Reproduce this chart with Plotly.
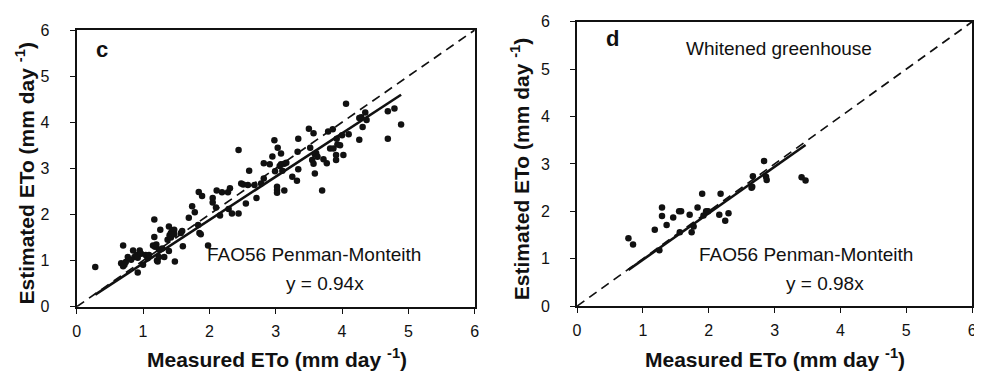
import plotly.graph_objects as go

# ---------------- data ----------------
c_measured = [0.28, 0.67, 0.70, 0.72, 0.70, 0.74, 0.77, 0.82, 0.85, 0.87, 0.90, 0.92, 0.92, 0.95, 0.97,
              1.00, 1.04, 1.07, 1.09, 1.15, 1.17, 1.17, 1.18, 1.20, 1.21, 1.22, 1.24, 1.24, 1.26, 1.29,
              1.32, 1.37, 1.39, 1.39, 1.40, 1.42, 1.42, 1.44, 1.47, 1.47, 1.48, 1.57, 1.59, 1.60, 1.69,
              1.74, 1.78, 1.83, 1.84, 1.85, 1.87, 1.89, 1.98, 2.05, 2.05, 2.10, 2.11, 2.16, 2.19, 2.28,
              2.29, 2.31, 2.34, 2.44, 2.44, 2.48, 2.51, 2.55, 2.58, 2.60, 2.68, 2.71, 2.78, 2.82, 2.82,
              2.91, 2.95, 2.98, 2.99, 3.02, 3.02, 3.02, 3.03, 3.06, 3.08, 3.08, 3.10, 3.13, 3.13, 3.16,
              3.25, 3.32, 3.33, 3.34, 3.34, 3.50, 3.52, 3.55, 3.57, 3.57, 3.59, 3.59, 3.61, 3.63, 3.70,
              3.72, 3.77, 3.79, 3.82, 3.86, 3.87, 3.91, 3.91, 3.92, 3.93, 3.97, 4.00, 4.02, 4.06, 4.10,
              4.26, 4.29, 4.26, 4.31, 4.35, 4.37, 4.69, 4.69, 4.79, 4.89]
c_estimated = [0.86, 0.94, 0.88, 0.91, 1.33, 0.97, 1.08, 1.02, 1.22, 1.08, 1.12, 1.06, 0.74, 1.22, 1.15,
               0.91, 1.12, 1.05, 1.12, 1.33, 1.89, 1.51, 1.30, 1.35, 1.00, 0.98, 1.08, 1.24, 1.67, 1.26,
               1.08, 1.45, 1.74, 1.21, 1.55, 1.60, 1.50, 1.65, 1.67, 1.57, 0.98, 1.60, 1.64, 1.31, 1.93,
               2.18, 2.05, 1.77, 2.49, 1.60, 1.57, 2.40, 1.33, 2.36, 2.26, 2.15, 2.52, 1.98, 2.48, 2.48,
               2.12, 2.57, 2.02, 2.02, 3.40, 2.67, 2.65, 2.24, 2.64, 2.95, 2.64, 2.36, 2.67, 3.11, 2.78,
               3.09, 3.26, 3.61, 2.94, 2.60, 2.53, 2.47, 3.45, 3.05, 3.32, 3.09, 2.95, 3.10, 2.52, 3.12,
               2.82, 2.73, 3.36, 3.64, 2.98, 3.86, 3.45, 3.18, 3.76, 3.10, 3.30, 2.89, 3.33, 3.25, 2.52,
               3.20, 3.11, 3.80, 3.43, 3.85, 3.43, 3.29, 3.18, 3.64, 3.52, 3.50, 3.72, 3.29, 4.40, 3.74,
               4.09, 4.11, 3.62, 3.90, 4.21, 4.05, 4.24, 3.64, 4.30, 3.95]

d_measured = [0.78, 0.85, 1.18, 1.25, 1.29, 1.29, 1.36, 1.46, 1.55, 1.58, 1.56, 1.71, 1.74, 1.77,
              1.83, 1.90, 1.92, 1.96, 1.99, 2.16, 2.18, 2.25, 2.30, 2.65, 2.66, 2.67, 2.84, 2.87,
              2.88, 3.41, 3.47]
d_estimated = [1.43, 1.30, 1.61, 1.18, 2.08, 1.90, 1.71, 1.87, 2.00, 2.00, 1.56, 1.93, 1.56, 1.68,
               2.08, 2.37, 1.91, 2.00, 2.00, 1.93, 2.37, 1.80, 1.96, 2.50, 2.52, 2.74, 3.06, 2.73,
               2.66, 2.72, 2.65]

c_slope = 0.94
d_slope = 0.98
axis_range = [0, 6]
tick_vals = [0, 1, 2, 3, 4, 5, 6]
x_title = "Measured ETo (mm day <sup>-1</sup>)"
y_title = "Estimated ETo (mm day <sup>-1</sup>)"
method_label = "FAO56 Penman-Monteith"
c_eq = "y = 0.94x"
d_eq = "y = 0.98x"
d_condition = "Whitened greenhouse"

# ---------------- figure ----------------
INK = "#111111"
FONT = "Liberation Sans, Arial, sans-serif"
W, H = 982, 381
OFF = 8  # the page body adds an 8px margin; positions below are given in page pixels


def px_x(p):
    return (p - OFF) / W


def px_y(p):
    return 1 - (p - OFF) / H


fig = go.Figure()


def add_panel(xs, ys, slope, xa, ya):
    # 1:1 line
    fig.add_trace(go.Scatter(x=axis_range, y=axis_range, mode="lines",
                             line=dict(color=INK, width=1.7, dash="9px,6px"),
                             xaxis=xa, yaxis=ya, showlegend=False, hoverinfo="skip"))
    # regression line through origin
    x0, x1 = min(xs), max(xs)
    fig.add_trace(go.Scatter(x=[x0, x1], y=[slope * x0, slope * x1], mode="lines",
                             line=dict(color=INK, width=2.6),
                             xaxis=xa, yaxis=ya, showlegend=False, hoverinfo="skip"))
    fig.add_trace(go.Scatter(x=xs, y=ys, mode="markers",
                             marker=dict(color=INK, size=6.5),
                             xaxis=xa, yaxis=ya, showlegend=False))


add_panel(c_measured, c_estimated, c_slope, "x", "y")
add_panel(d_measured, d_estimated, d_slope, "x2", "y2")

axis_common = dict(range=axis_range, tickvals=tick_vals, showgrid=False, zeroline=False,
                   showline=True, linecolor=INK, linewidth=2, mirror=True,
                   ticks="outside", ticklen=5, tickwidth=1.2, tickcolor=INK,
                   tickfont=dict(family=FONT, size=16, color=INK))

fig.update_layout(
    width=W, height=H,
    margin=dict(l=0, r=0, t=0, b=0),
    paper_bgcolor="white", plot_bgcolor="white",
    xaxis=dict(domain=[px_x(73.3), px_x(475)], anchor="y", ticklabelstandoff=4, **axis_common),
    yaxis=dict(domain=[px_y(312.3), px_y(22.7)], anchor="x", ticklabelstandoff=17, **axis_common),
    xaxis2=dict(domain=[px_x(578.3), px_x(977)], anchor="y2", ticklabelstandoff=4, **axis_common),
    yaxis2=dict(domain=[px_y(311.7), px_y(14)], anchor="x2", ticklabelstandoff=17, **axis_common),
)

ann_font = dict(family=FONT, size=19, color=INK)
bold_font = dict(family=FONT, size=22, color=INK)
title_font = dict(family=FONT, size=21, color=INK)

annotations = [
    dict(x=0.38, y=5.58, xref="x", yref="y", text="<b>c</b>", font=bold_font, showarrow=False),
    dict(x=3.58, y=1.125, xref="x", yref="y", text=method_label, font=ann_font, showarrow=False),
    dict(x=3.75, y=0.50, xref="x", yref="y", text=c_eq, font=ann_font, showarrow=False),
    dict(x=0.54, y=5.64, xref="x2", yref="y2", text="<b>d</b>", font=bold_font, showarrow=False),
    dict(x=3.06, y=5.44, xref="x2", yref="y2", text=d_condition, font=ann_font, showarrow=False),
    dict(x=3.48, y=1.08, xref="x2", yref="y2", text=method_label, font=ann_font, showarrow=False),
    dict(x=3.76, y=0.48, xref="x2", yref="y2", text=d_eq, font=ann_font, showarrow=False),
    # axis titles
    dict(x=px_x(275), y=px_y(366), xref="paper", yref="paper", text="<b>" + x_title + "</b>",
         font=title_font, showarrow=False, xanchor="center", yanchor="middle"),
    dict(x=px_x(778), y=px_y(366), xref="paper", yref="paper", text="<b>" + x_title + "</b>",
         font=title_font, showarrow=False, xanchor="center", yanchor="middle"),
    dict(x=px_x(21), y=px_y(173), xref="paper", yref="paper", text="<b>" + y_title + "</b>",
         font=title_font, showarrow=False, textangle=-90, xanchor="center", yanchor="middle"),
    dict(x=px_x(521), y=px_y(168), xref="paper", yref="paper", text="<b>" + y_title + "</b>",
         font=title_font, showarrow=False, textangle=-90, xanchor="center", yanchor="middle"),
]
fig.update_layout(annotations=annotations)

fig.write_html("out.html")
